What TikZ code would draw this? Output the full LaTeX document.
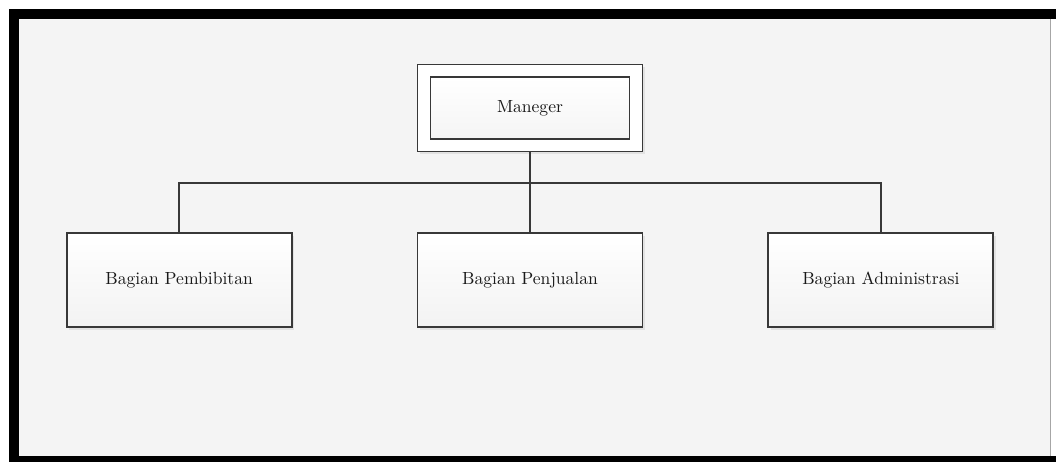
\documentclass[tikz,border=0pt]{standalone}
\usetikzlibrary{positioning,shadows}

\definecolor{linegray}{HTML}{383838}
\definecolor{pagebg}{HTML}{F4F4F4}

\begin{document}
\begin{tikzpicture}[
    x=0.02cm, y=-0.02cm,
    unit/.style={draw=linegray, line width=1.1pt, top color=white, bottom color=gray!10,
      minimum width=4.5cm, minimum height=1.88cm, align=center, text=black!90,
      drop shadow={opacity=0.15, shadow xshift=1.5pt, shadow yshift=-1.5pt}},
    headouter/.style={draw=linegray, line width=1.1pt, fill=white, minimum width=4.5cm, minimum height=1.74cm,
      drop shadow={opacity=0.15, shadow xshift=1.5pt, shadow yshift=-1.5pt}},
    headinner/.style={draw=linegray, line width=1.1pt, top color=white, bottom color=gray!8,
      minimum width=3.98cm, minimum height=1.24cm, align=center, text=black!90},
    link/.style={draw=linegray, line width=1.1pt},
  ]
    \useasboundingbox (0,0) rectangle (1056,462);
    % frame and background
    \fill[black] (9,9) rectangle (1056,462);
    \fill[white] (1051,19) rectangle (1056,456);
    \fill[pagebg] (19,19) rectangle (1050,456);
    \draw[gray!70] (1050.5,19) -- (1050.5,456);

    \node[headouter] (managerouter) at (530,108) {};
    \node[headinner] (manager) at (managerouter.center) {Maneger};

    \node[unit, below=1.6cm of managerouter] (penjualan) {Bagian Penjualan};
    \node[unit, left=2.48cm of penjualan] (pembibitan) {Bagian Pembibitan};
    \node[unit, right=2.48cm of penjualan] (administrasi) {Bagian Administrasi};

    \coordinate (bus) at (530,183);

    \draw[link] (managerouter.south) -- (penjualan.north);
    \draw[link] (pembibitan.north) |- (bus) -| (administrasi.north);
  \end{tikzpicture}
\end{document}
